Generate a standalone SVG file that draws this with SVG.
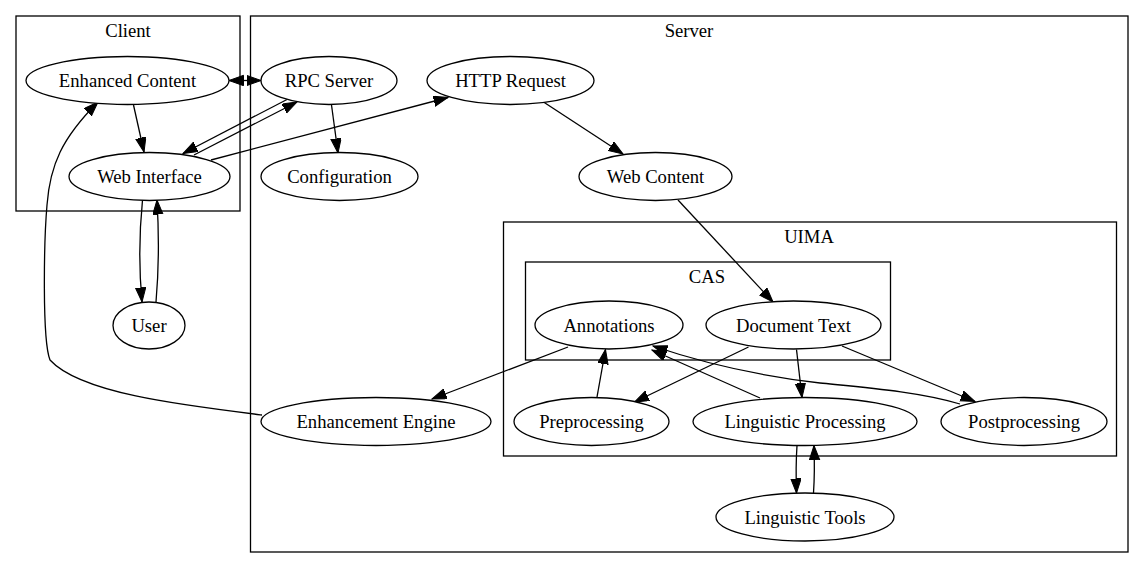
<svg xmlns="http://www.w3.org/2000/svg" width="1144" height="579" viewBox="0 0 1144 579">
<style>
.cl{fill:none;stroke:#000;stroke-width:1.3}
.nd{fill:#fff;stroke:#000;stroke-width:1.3}
text{font-family:"Liberation Serif","Times New Roman",serif;font-size:18.67px;text-anchor:middle;fill:#000}
.e{fill:none;stroke:#000;stroke-width:1.3;marker-end:url(#ah)}
</style>
<defs>
<marker id="ah" markerUnits="userSpaceOnUse" markerWidth="16" markerHeight="12" refX="14.5" refY="5.2" orient="auto-start-reverse" viewBox="0 0 16 12">
<path d="M0,0 L14.5,5.2 L0,10.4 Z" fill="#000" stroke="#000" stroke-width="1"/>
</marker>
</defs>
<rect id="background" width="1144" height="579" fill="#fff"/>
<g id="cluster_client">
<rect class="cl" x="16" y="16" width="224" height="195"/>
<text x="128" y="37">Client</text>
</g>
<g id="cluster_server">
<rect class="cl" x="250.5" y="16" width="877.5" height="536"/>
<text x="689" y="37">Server</text>
</g>
<g id="cluster_uima">
<rect class="cl" x="503.5" y="222" width="613" height="234"/>
<text x="809" y="243">UIMA</text>
</g>
<g id="cluster_cas">
<rect class="cl" x="525.5" y="262" width="365" height="98"/>
<text x="707" y="283">CAS</text>
</g>
<g id="edges">
<path class="e" d="M245,80.5 L229,80.5"/>
<path class="e" d="M245,80.5 L261,80.5"/>
<path class="e" d="M133.5,105 L144,152"/>
<path class="e" d="M287,99.5 L183,153.5"/>
<path class="e" d="M194,155 L297,102"/>
<path class="e" d="M211,160 L448,97.5"/>
<path class="e" d="M331.5,105 L338,153"/>
<path class="e" d="M543.5,102 L623,154"/>
<path class="e" d="M678,200 L773,302"/>
<path class="e" d="M142.5,200 C139,235 139,270 142,302"/>
<path class="e" d="M156,302 C159,268 159,234 157,200"/>
<path class="e" d="M262,415 C180,405 80,393 50,360 C42,340 44,240 47,205 C50,165 62,138 98,102"/>
<path class="e" d="M568,347 L432,399"/>
<path class="e" d="M597,397 L605.5,349.5"/>
<path class="e" d="M748.5,347 L634.5,402"/>
<path class="e" d="M760,398 L652,350"/>
<path class="e" d="M960,404 C920,392 870,388 820,383 C760,376 700,362 653,346"/>
<path class="e" d="M796.5,349.5 L802,397.5"/>
<path class="e" d="M842,346 L975,401.5"/>
<path class="e" d="M797,445.5 C796,460 796,478 796.5,493"/>
<path class="e" d="M813.5,493 C814.5,478 814.5,460 814,445.5"/>
</g>
<g id="node_enhanced_content">
<ellipse class="nd" cx="127.5" cy="80.5" rx="101.5" ry="24"/>
<text x="127.5" y="87">Enhanced Content</text>
</g>
<g id="node_rpc_server">
<ellipse class="nd" cx="329" cy="80.5" rx="68" ry="24"/>
<text x="329" y="87">RPC Server</text>
</g>
<g id="node_http_request">
<ellipse class="nd" cx="510.5" cy="80.5" rx="83.5" ry="24"/>
<text x="510.5" y="87">HTTP Request</text>
</g>
<g id="node_web_interface">
<ellipse class="nd" cx="149.5" cy="176.5" rx="80.5" ry="24"/>
<text x="149.5" y="183">Web Interface</text>
</g>
<g id="node_configuration">
<ellipse class="nd" cx="339.5" cy="176.5" rx="78.5" ry="24"/>
<text x="339.5" y="183">Configuration</text>
</g>
<g id="node_web_content">
<ellipse class="nd" cx="655.5" cy="176.5" rx="76.5" ry="24"/>
<text x="655.5" y="183">Web Content</text>
</g>
<g id="node_user">
<ellipse class="nd" cx="149" cy="325.5" rx="36" ry="23.5"/>
<text x="149" y="332">User</text>
</g>
<g id="node_annotations">
<ellipse class="nd" cx="609" cy="325" rx="74" ry="24"/>
<text x="609" y="331.5">Annotations</text>
</g>
<g id="node_document_text">
<ellipse class="nd" cx="793.5" cy="325" rx="87.5" ry="24"/>
<text x="793.5" y="331.5">Document Text</text>
</g>
<g id="node_enhancement_engine">
<ellipse class="nd" cx="376" cy="421.5" rx="115" ry="24"/>
<text x="376" y="428">Enhancement Engine</text>
</g>
<g id="node_preprocessing">
<ellipse class="nd" cx="591.5" cy="421.5" rx="77.5" ry="24"/>
<text x="591.5" y="428">Preprocessing</text>
</g>
<g id="node_linguistic_processing">
<ellipse class="nd" cx="805" cy="421.5" rx="112" ry="24"/>
<text x="805" y="428">Linguistic Processing</text>
</g>
<g id="node_postprocessing">
<ellipse class="nd" cx="1024" cy="421.5" rx="83" ry="24"/>
<text x="1024" y="428">Postprocessing</text>
</g>
<g id="node_linguistic_tools">
<ellipse class="nd" cx="805" cy="517" rx="89" ry="24"/>
<text x="805" y="523.5">Linguistic Tools</text>
</g>
</svg>
